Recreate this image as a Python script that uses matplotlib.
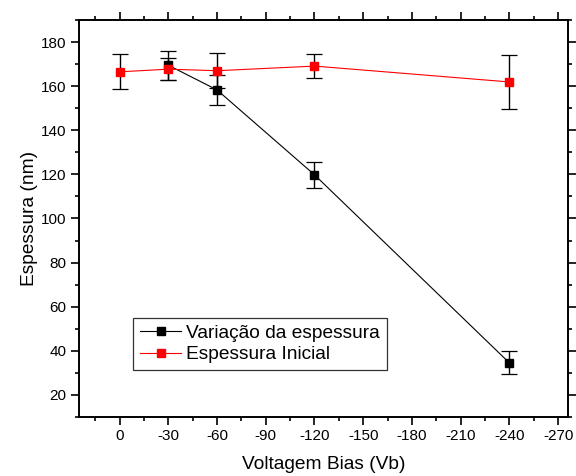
import matplotlib
matplotlib.use("Agg")
import matplotlib.pyplot as plt
from matplotlib.ticker import MultipleLocator
from matplotlib.lines import Line2D

plt.rcParams['font.family'] = ['Liberation Sans', 'DejaVu Sans']
plt.rcParams['axes.unicode_minus'] = False

# Variação da espessura (black)
x_var = [-30, -60, -120, -240]
y_var = [169.5, 158.3, 119.8, 34.5]
e_var = [6.5, 6.7, 5.8, 5.2]

# Espessura Inicial (red)
x_ini = [0, -30, -60, -120, -240]
y_ini = [166.5, 167.7, 167.0, 169.1, 161.9]
e_ini = [8.0, 5.0, 8.0, 5.3, 12.2]

fig = plt.figure(figsize=(5.76, 4.76), dpi=100)
ax = fig.add_axes([0.137, 0.124, 0.849, 0.834])

ax.errorbar(x_var, y_var, yerr=e_var, color='black', marker='s', ms=6.2,
            lw=0.8, ecolor='black', elinewidth=1.0, capsize=6, capthick=0.9)
ax.errorbar(x_ini, y_ini, yerr=e_ini, color='red', marker='s', ms=6.2,
            lw=0.8, ecolor='black', elinewidth=1.0, capsize=6, capthick=0.9)

ax.set_xlim(25, -276)
ax.set_ylim(10, 190)
ax.xaxis.set_major_locator(MultipleLocator(30))
ax.xaxis.set_minor_locator(MultipleLocator(15))
ax.yaxis.set_minor_locator(MultipleLocator(10))
ax.set_yticks(range(20, 181, 20))

ax.tick_params(which='both', direction='out', top=True, right=True,
               labelsize=11, width=1.2)
ax.tick_params(which='major', length=5.5)
ax.tick_params(which='minor', length=3)
for s in ax.spines.values():
    s.set_linewidth(1.4)

ax.set_xlabel('Voltagem Bias (Vb)', fontsize=13.8, labelpad=9)
ax.set_ylabel('Espessura (nm)', fontsize=13.8, labelpad=2)

handles = [Line2D([], [], color='black', marker='s', ms=6.4, lw=0.8),
           Line2D([], [], color='red', marker='s', ms=6.4, lw=0.8)]
labels = ['Variação da espessura', 'Espessura Inicial']
leg = ax.legend(handles, labels, loc='lower left',
                bbox_to_anchor=(0.111, 0.118), fontsize=13.8,
                frameon=True, fancybox=False, edgecolor='black',
                borderpad=0.35, handlelength=2.15, handletextpad=0.28,
                labelspacing=0.22, numpoints=1, borderaxespad=0)
leg.get_frame().set_linewidth(0.9)

fig.savefig('out.png', dpi=100)
